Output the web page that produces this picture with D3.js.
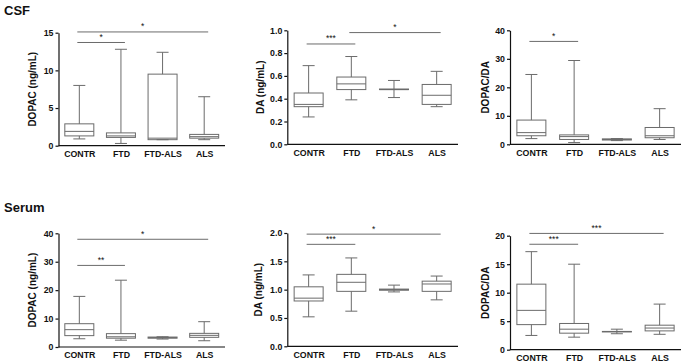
<!DOCTYPE html>
<html>
<head>
<meta charset="utf-8">
<script src="https://cdn.jsdelivr.net/npm/d3@7"></script>
<style>
  body { margin: 0; background: #fff; }
  svg text { font-family: "Liberation Sans", Arial, sans-serif; font-weight: bold; fill: #111; }
</style>
</head>
<body>
<svg id="chart" width="685" height="364"></svg>
<script>
// groups
const groups = ['CONTR', 'FTD', 'FTD-ALS', 'ALS'];

// box stats per group: [min, q1, median, q3, max]
const csfDopac = [[0.9, 1.3, 1.9, 2.9, 8.0], [0.3, 1.1, 1.3, 1.7, 12.8], [0.8, 0.8, 1.0, 9.5, 12.4], [0.8, 1.0, 1.2, 1.5, 6.5]];
const csfDa = [[0.24, 0.33, 0.35, 0.45, 0.69], [0.39, 0.48, 0.53, 0.59, 0.77], [0.41, 0.48, 0.48, 0.485, 0.56], [0.33, 0.35, 0.43, 0.525, 0.64]];
const csfRatio = [[2.0, 3.0, 4.1, 8.5, 24.5], [0.6, 1.7, 2.7, 3.3, 29.4], [1.3, 1.5, 1.7, 1.9, 2.0], [1.7, 2.3, 3.0, 5.9, 12.5]];
const serumDopac = [[2.9, 4.0, 6.1, 8.2, 17.8], [2.4, 3.1, 3.6, 4.7, 23.5], [2.8, 3.1, 3.3, 3.5, 3.6], [2.2, 3.4, 4.1, 4.8, 8.9]];
const serumDa = [[0.52, 0.80, 0.85, 1.05, 1.26], [0.62, 0.97, 1.13, 1.27, 1.56], [0.96, 0.99, 1.0, 1.01, 1.08], [0.82, 0.97, 1.10, 1.15, 1.24]];
const serumRatio = [[2.5, 4.4, 6.9, 11.5, 17.2], [2.2, 2.9, 3.6, 4.6, 15.0], [2.8, 3.2, 3.2, 3.2, 3.6], [2.7, 3.3, 3.8, 4.3, 8.0]];

// y ticks
const ticksDopacCsf = [0, 5, 10, 15];
const ticksDaCsf = [0, 0.2, 0.4, 0.6, 0.8, 1.0];
const ticksRatioCsf = [0, 10, 20, 30, 40];
const ticksDopacSerum = [0, 10, 20, 30, 40];
const ticksDaSerum = [0, 0.5, 1.0, 1.5, 2.0];
const ticksRatioSerum = [0, 5, 10, 15, 20];

// significance brackets: [from group, to group, level, label]
const sigCsfDopac = [['CONTR', 'ALS', 15.1, '*'], ['CONTR', 'FTD', 13.7, '*']];
const sigCsfDa = [['CONTR', 'FTD', 0.88, '***'], ['FTD', 'ALS', 0.98, '*']];
const sigCsfRatio = [['CONTR', 'FTD', 36.1, '*']];
const sigSerumDopac = [['CONTR', 'ALS', 37.9, '*'], ['CONTR', 'FTD', 28.7, '**']];
const sigSerumDa = [['CONTR', 'ALS', 1.98, '*'], ['CONTR', 'FTD', 1.80, '***']];
const sigSerumRatio = [['CONTR', 'ALS', 20.4, '***'], ['CONTR', 'FTD', 18.5, '***']];

const panels = [
    {data: csfDopac,    ticks: ticksDopacCsf,   sig: sigCsfDopac,    label: 'DOPAC (ng/mL)', fmt: 'd',    x0: 58.5,  x1: 225, top: 32.7,  bottom: 145.7, lx: 36},
    {data: csfDa,       ticks: ticksDaCsf,      sig: sigCsfDa,       label: 'DA (ng/mL)',    fmt: '.1f',  x0: 287.3, x1: 458, top: 30.3,  bottom: 144.3, lx: 264},
    {data: csfRatio,    ticks: ticksRatioCsf,   sig: sigCsfRatio,    label: 'DOPAC/DA',      fmt: 'd',    x0: 510,   x1: 681, top: 30.3,  bottom: 144.3, lx: 489},
    {data: serumDopac,  ticks: ticksDopacSerum, sig: sigSerumDopac,  label: 'DOPAC (ng/mL)', fmt: 'd',    x0: 58.5,  x1: 225, top: 233.3, bottom: 347,   lx: 36},
    {data: serumDa,     ticks: ticksDaSerum,    sig: sigSerumDa,     label: 'DA (ng/mL)',    fmt: '.1f',  x0: 287.3, x1: 458, top: 233,   bottom: 346.3, lx: 262},
    {data: serumRatio,  ticks: ticksRatioSerum, sig: sigSerumRatio,  label: 'DOPAC/DA',      fmt: 'd',    x0: 510,   x1: 681, top: 235.7, bottom: 349.7, lx: 489}
];

const svg = d3.select('#chart');
const boxColor = '#6b6b6b';
const boxW = 29, capW = 12;

svg.append('text').attr('x', 4).attr('y', 15).style('font-size', '13px').text('CSF');
svg.append('text').attr('x', 4).attr('y', 212).style('font-size', '13px').text('Serum');

panels.forEach(p => {
    const ticks = p.ticks;
    const x = d3.scalePoint().domain(groups).range([p.x0, p.x1]).padding(0.5);
    const y = d3.scaleLinear().domain([0, ticks[ticks.length - 1]]).range([p.bottom, p.top]);
    const g = svg.append('g');

    // y axis
    const ya = g.append('g')
        .attr('transform', `translate(${p.x0},0)`)
        .call(d3.axisLeft(y).tickValues(ticks).tickFormat(d3.format(p.fmt)).tickSize(3).tickSizeOuter(0).tickPadding(2));
    ya.select('.domain').attr('stroke', '#111').attr('stroke-width', 1.2);
    ya.selectAll('.tick line').attr('stroke', '#111').attr('stroke-width', 1.2);
    ya.selectAll('.tick text').style('font-size', '8.8px').style('font-family', '"Liberation Sans", Arial, sans-serif').style('font-weight', 'bold').attr('fill', '#111');

    // x axis
    const xa = g.append('g')
        .attr('transform', `translate(0,${p.bottom})`)
        .call(d3.axisBottom(x).tickSize(0).tickPadding(5));
    xa.select('.domain').attr('stroke', '#111').attr('stroke-width', 1.2).attr('d', `M${p.x0},0H${p.x1}`);
    xa.selectAll('.tick text').style('font-size', '8.8px').style('font-family', '"Liberation Sans", Arial, sans-serif').style('font-weight', 'bold').attr('fill', '#111');

    // y label
    g.append('text')
        .attr('transform', `translate(${p.lx},${(p.top + p.bottom) / 2}) rotate(-90)`)
        .attr('text-anchor', 'middle')
        .style('font-size', '10px')
        .text(p.label);

    // boxes
    p.data.forEach((s, i) => {
        const cx = x(groups[i]);
        const [mn, q1, md, q3, mx] = s;
        const b = g.append('g').attr('stroke', boxColor).attr('stroke-width', 1).attr('fill', 'none');
        b.append('line').attr('x1', cx).attr('x2', cx).attr('y1', y(mx)).attr('y2', y(q3));
        b.append('line').attr('x1', cx).attr('x2', cx).attr('y1', y(q1)).attr('y2', y(mn));
        b.append('line').attr('x1', cx - capW / 2).attr('x2', cx + capW / 2).attr('y1', y(mx)).attr('y2', y(mx));
        b.append('line').attr('x1', cx - capW / 2).attr('x2', cx + capW / 2).attr('y1', y(mn)).attr('y2', y(mn));
        b.append('rect').attr('x', cx - boxW / 2).attr('width', boxW)
            .attr('y', y(q3)).attr('height', Math.max(y(q1) - y(q3), 0.5));
        b.append('line').attr('x1', cx - boxW / 2).attr('x2', cx + boxW / 2).attr('y1', y(md)).attr('y2', y(md));
    });

    // significance
    p.sig.forEach(([a, c, lv, lab]) => {
        const xa0 = x(a) - 2, xa1 = x(c) + 4;
        g.append('line').attr('x1', xa0).attr('x2', xa1).attr('y1', y(lv)).attr('y2', y(lv))
            .attr('stroke', boxColor).attr('stroke-width', 1);
        g.append('text').attr('x', (xa0 + xa1) / 2).attr('y', y(lv) - 2.5)
            .attr('text-anchor', 'middle').style('font-size', '8.5px').style('font-weight', 'normal')
            .attr('fill', '#333').text(lab);
    });
});
</script>
</body>
</html>
